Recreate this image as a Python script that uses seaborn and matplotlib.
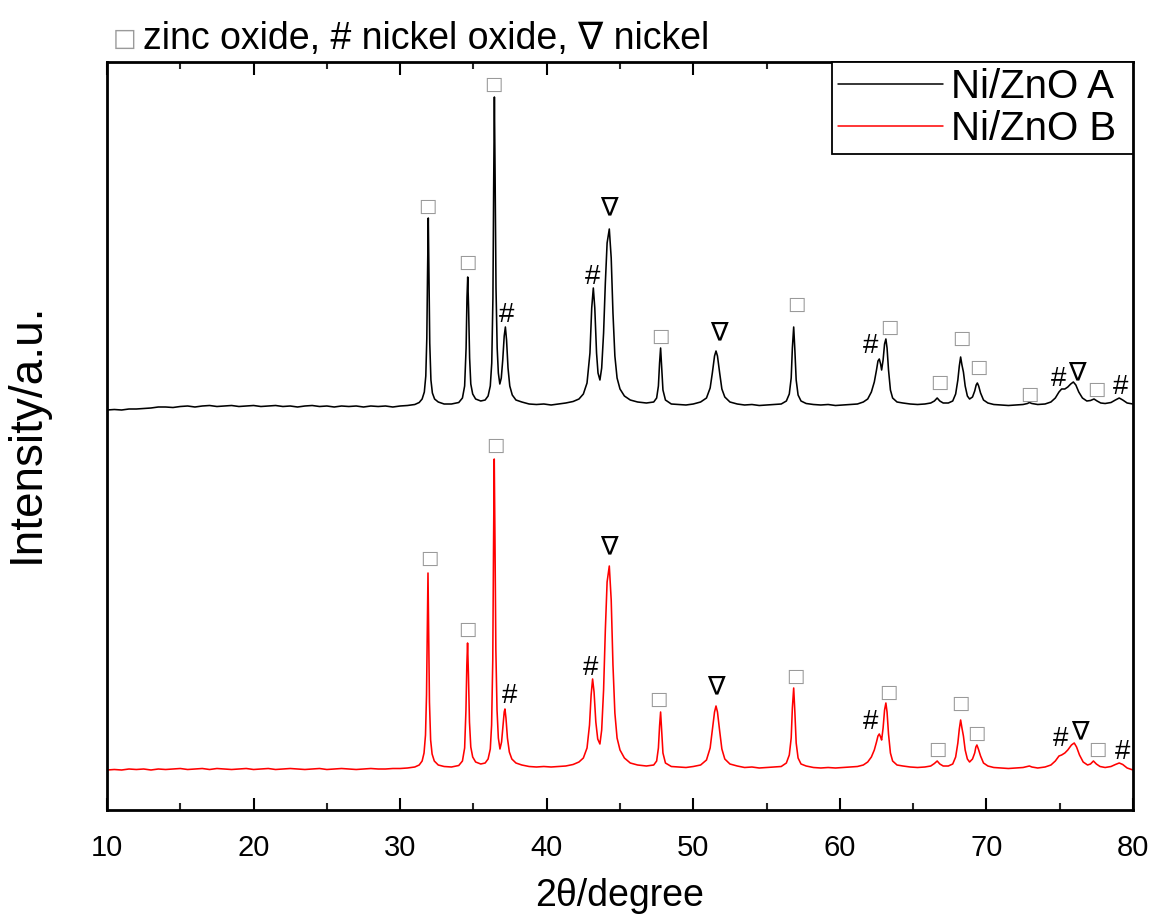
import numpy as np
import pandas as pd
import matplotlib
matplotlib.use("Agg")
import matplotlib.pyplot as plt
import seaborn as sns

# ---------------- data ----------------
two_theta_a = [10, 10.5, 11, 11.5, 12, 12.5, 13, 13.5, 14, 14.5, 15, 15.5, 16, 16.5, 17, 17.5, 18, 18.5,
               19, 19.5, 20, 20.5, 21, 21.5, 22, 22.5, 23, 23.5, 24, 24.5, 25, 25.5, 26, 26.5, 27, 27.5,
               28, 28.5, 29, 29.5, 30, 30.5, 31.0, 31.3,
               31.5, 31.65, 31.75, 31.82, 31.87, 31.92, 31.97, 32.02, 32.1, 32.2, 32.35, 32.6, 33.0, 33.5,
               34.0, 34.25, 34.4, 34.5, 34.56, 34.61, 34.67, 34.74, 34.82, 34.95, 35.15, 35.5, 35.8, 36.0,
               36.15, 36.25, 36.33, 36.38, 36.43, 36.48, 36.54, 36.62, 36.7, 36.8, 36.9, 37.0, 37.1, 37.18,
               37.26, 37.36, 37.48, 37.65, 37.9, 38.3, 38.8, 39.3, 39.8, 40.3, 40.8, 41.3, 41.8, 42.2,
               42.5, 42.75, 42.95, 43.07, 43.18, 43.28, 43.4, 43.5, 43.63, 43.75, 43.88, 44.0, 44.12, 44.27,
               44.4, 44.52, 44.65, 44.8, 45.0, 45.3, 45.7, 46.2, 46.8, 47.3, 47.5, 47.62, 47.7, 47.77,
               47.84, 47.93, 48.1, 48.5, 49.0, 49.5, 50.0, 50.5, 50.9, 51.15, 51.3, 51.45, 51.55, 51.65,
               51.8, 51.95, 52.15, 52.5, 53, 53.5, 54, 54.5, 55, 55.5, 56, 56.35, 56.55, 56.68, 56.76,
               56.85, 56.93, 57.02, 57.15, 57.35, 57.7, 58.2, 58.7, 59.2, 59.7, 60.2, 60.7, 61.2, 61.6,
               61.9, 62.15, 62.35, 62.5, 62.6, 62.69, 62.78, 62.85, 62.95, 63.05, 63.14, 63.22, 63.32,
               63.45, 63.6, 63.9, 64.3, 64.8, 65.3, 65.8, 66.2, 66.45, 66.64, 66.82, 67.05, 67.4, 67.7,
               67.9, 68.05, 68.15, 68.24, 68.33, 68.43, 68.55, 68.7, 68.85, 69.05, 69.2, 69.3, 69.38,
               69.47, 69.6, 69.8, 70.1, 70.5, 71, 71.5, 72, 72.5, 72.8, 72.93, 73.1, 73.5, 74, 74.4,
               74.7, 74.95, 75.13, 75.35, 75.55, 75.75, 75.93, 76.1, 76.3, 76.55, 76.85, 77.1, 77.34,
               77.55, 77.8, 78.1, 78.5, 78.8, 79.06, 79.3, 79.6, 80.0]
intensity_a = [38, 38.5, 38, 39, 39, 39.5, 40, 41, 41, 40.5, 41.5, 42, 41, 42, 42.5, 41.5, 42, 42.5,
               41.5, 42, 42.5, 41.5, 42, 42.5, 41.5, 42, 41, 42, 42.5, 41.5, 42, 41, 42, 41.5, 42, 41,
               42, 41.5, 42, 41, 42, 42.5, 43.5, 45.5,
               49, 56, 72, 110, 175, 230, 170, 105, 68, 55, 49, 46, 44, 44,
               45.5, 50, 62, 100, 150, 171, 140, 90, 64, 54, 49, 47, 48, 52,
               62, 85, 150, 260, 351, 270, 160, 100, 75, 64, 70, 88, 112, 121,
               108, 80, 62, 53, 48, 46, 44, 43.5, 44, 43, 44, 45, 46.5, 49,
               54, 65, 95, 140, 160, 140, 95, 75, 68, 80, 115, 165, 205, 219,
               190, 135, 92, 70, 59, 52, 48, 46, 45, 46, 50, 62, 85, 100,
               82, 58, 48, 44, 43.5, 43, 44, 46, 50, 60, 75, 92, 97, 92,
               75, 59, 51, 46, 44, 43, 43.5, 42.5, 43, 43.5, 44, 47, 54, 70, 100,
               121, 98, 68, 53, 47, 44.5, 43.5, 43, 43.5, 42.5, 43, 43.5, 44, 46,
               49, 56, 66, 78, 87, 89, 84, 78, 88, 104, 109, 100, 78,
               58, 50, 46, 45, 44, 43.5, 44, 45, 47, 50, 47, 45, 45, 47,
               54, 68, 82, 91, 83, 76, 62, 52, 49, 51, 57, 63, 65,
               62, 55, 48, 45, 43.5, 43, 42.5, 43, 43.5, 44.5, 45.5, 44.5, 43.5, 44, 46,
               50, 56, 59, 59, 61, 64, 66, 63, 56, 50, 47, 47.5, 49,
               47, 45, 44.5, 45.5, 48, 50, 48, 45, 44]

two_theta_b = [10, 10.5, 11, 11.5, 12, 12.5, 13, 13.5, 14, 14.5, 15, 15.5, 16, 16.5, 17, 17.5, 18, 18.5,
               19, 19.5, 20, 20.5, 21, 21.5, 22, 22.5, 23, 23.5, 24, 24.5, 25, 25.5, 26, 26.5, 27, 27.5,
               28, 28.5, 29, 29.5, 30, 30.5, 31.0, 31.3,
               31.5, 31.63, 31.73, 31.8, 31.85, 31.9, 31.95, 32.0, 32.08, 32.18, 32.33, 32.6, 33.0, 33.5,
               34.0, 34.25, 34.4, 34.49, 34.55, 34.6, 34.66, 34.73, 34.82, 34.95, 35.15, 35.5, 35.8, 36.0,
               36.15, 36.24, 36.32, 36.37, 36.42, 36.47, 36.53, 36.61, 36.7, 36.81, 36.92, 37.02, 37.1,
               37.15, 37.22, 37.32, 37.45, 37.62, 37.9, 38.3, 38.8, 39.3, 39.8, 40.3, 40.8, 41.3, 41.8,
               42.2, 42.5, 42.75, 42.92, 43.03, 43.13, 43.23, 43.35, 43.48, 43.63, 43.75, 43.88, 44.0,
               44.12, 44.27, 44.4, 44.52, 44.65, 44.8, 45.0, 45.3, 45.7, 46.2, 46.8, 47.3, 47.5, 47.62,
               47.7, 47.77, 47.84, 47.93, 48.1, 48.5, 49.0, 49.5, 50.0, 50.5, 50.9, 51.15, 51.3, 51.45,
               51.55, 51.65, 51.8, 51.95, 52.15, 52.5, 53, 53.5, 54, 54.5, 55, 55.5, 56, 56.35, 56.55,
               56.68, 56.76, 56.85, 56.93, 57.02, 57.15, 57.35, 57.7, 58.2, 58.7, 59.2, 59.7, 60.2, 60.7,
               61.2, 61.6, 61.9, 62.15, 62.35, 62.5, 62.6, 62.69, 62.78, 62.85, 62.95, 63.05, 63.14,
               63.22, 63.32, 63.45, 63.6, 63.9, 64.3, 64.8, 65.3, 65.8, 66.2, 66.45, 66.64, 66.82, 67.05,
               67.4, 67.7, 67.9, 68.05, 68.15, 68.24, 68.33, 68.43, 68.55, 68.7, 68.85, 69.05, 69.2,
               69.28, 69.35, 69.45, 69.6, 69.8, 70.1, 70.5, 71, 71.5, 72, 72.5, 72.8, 72.93, 73.1, 73.5,
               74, 74.4, 74.7, 74.95, 75.13, 75.35, 75.55, 75.8, 75.99, 76.15, 76.35, 76.6, 76.9, 77.1,
               77.3, 77.5, 77.75, 78.1, 78.5, 78.8, 79.06, 79.3, 79.6, 80]
intensity_b = [40, 40.5, 40, 41, 40.5, 41, 40, 41, 40.5, 41, 41.5, 40.5, 41, 41.5, 40.5, 41.5, 41, 40.5,
               41, 41.5, 40.5, 41, 41.5, 40.5, 41, 41.5, 41, 40.5, 41, 41.5, 40.5, 41, 41.5, 41, 40.5, 41,
               41.5, 41, 41, 41.5, 41.5, 42, 43, 45,
               49, 57, 75, 115, 180, 237, 175, 108, 70, 56, 49, 45, 43.5, 43,
               44.5, 49, 62, 100, 145, 167, 135, 88, 63, 53, 48, 46, 47, 51,
               61, 85, 150, 260, 351, 270, 160, 100, 72, 61, 68, 84, 98,
               101, 92, 72, 58, 51, 47, 45, 43.5, 43, 43.5, 43, 43.5, 44, 45.5,
               48, 52, 62, 85, 115, 131, 118, 88, 71, 66, 80, 120, 180,
               228, 244, 210, 145, 97, 72, 60, 52, 47, 45, 44, 45, 49, 62,
               84, 98, 80, 57, 47, 43.5, 43, 42.5, 43.5, 45, 50, 62, 80, 98,
               104, 98, 79, 61, 51, 46, 44, 42.5, 43, 42, 42.5, 43, 43.5, 47, 55,
               72, 102, 122, 98, 67, 52, 46, 44, 42.5, 42, 42.5, 42, 42.5, 43,
               43.5, 45, 48, 53, 60, 68, 74, 76, 73, 70, 82, 100, 107,
               98, 76, 57, 49, 45, 44, 43, 42.5, 43, 44, 46.5, 49, 46, 44,
               44, 46, 53, 67, 81, 90, 82, 74, 60, 51, 48, 51, 57,
               63, 65, 61, 54, 47, 44, 42.5, 42, 41.5, 42, 42.5, 43.5, 44, 43, 42,
               43, 45, 49, 54, 55, 57, 60, 65, 67, 63, 55, 48, 45, 46,
               49, 46, 43.5, 42.5, 43.5, 45.5, 47, 45.5, 42, 40]

offset_a = 362  # vertical stacking offset of sample A

series_names = ["Ni/ZnO A", "Ni/ZnO B"]

# peak markers: position (2theta), symbol, label height (a.u., already stacked)
mark_x_a = [31.87, 34.6, 36.38, 37.27, 43.11, 44.26, 47.77, 51.72, 57.05, 62.12, 63.35, 66.8, 68.3, 69.42,
            72.93, 74.95, 76.2, 77.47, 79.15]
mark_y_a = [604, 548, 726, 495, 533, 602, 474, 477, 506, 464, 483, 428, 472, 443, 416, 431, 437, 421, 423]
mark_s_a = ["□", "□", "□", "#", "#", "∇", "□", "∇", "□", "#", "□", "□", "□", "□", "□", "#", "∇", "□", "#"]

mark_x_b = [31.99, 34.62, 36.49, 37.44, 42.97, 44.24, 47.59, 51.55, 56.94, 62.12, 63.3, 66.66, 68.19, 69.3,
            75.08, 76.38, 77.58, 79.26]
mark_y_b = [252, 181, 365, 114, 142, 263, 111, 123, 134, 88, 118, 61, 107, 77, 71, 78, 61, 58]
mark_s_b = ["□", "□", "□", "#", "#", "∇", "□", "∇", "□", "#", "□", "□", "□", "□", "#", "∇", "□", "#"]

title_legend = ["□", "zinc oxide, # nickel oxide, ∇ nickel"]

x_ticks = [10, 20, 30, 40, 50, 60, 70, 80]
x_minor = [15, 25, 35, 45, 55, 65, 75]

# ---------------- build table ----------------
df = pd.concat([
    pd.DataFrame({"two_theta": two_theta_a,
                  "intensity": np.array(intensity_a) + offset_a,
                  "sample": series_names[0]}),
    pd.DataFrame({"two_theta": two_theta_b,
                  "intensity": intensity_b,
                  "sample": series_names[1]}),
], ignore_index=True)

# ---------------- plotting ----------------
sns.set_theme(style="ticks")
plt.rcParams["font.family"] = ["Liberation Sans", "DejaVu Sans"]
plt.rcParams["text.color"] = "black"

fig = plt.figure(figsize=(11.57, 9.18), dpi=100)
ax = fig.add_axes([107 / 1157, 1 - 810 / 918, (1133 - 107) / 1157, (810 - 62) / 918])

sns.lineplot(data=df, x="two_theta", y="intensity", hue="sample",
             palette={"Ni/ZnO A": "black", "Ni/ZnO B": "red"},
             linewidth=1.15, ax=ax, sort=False, estimator=None)

grey = "#9a9a9a"
for xs, ys, ss in [(mark_x_a, mark_y_a, mark_s_a), (mark_x_b, mark_y_b, mark_s_b)]:
    for x, y, s in zip(xs, ys, ss):
        if s == "□":
            ax.text(x, y, s, color=grey, fontsize=14, ha="center", va="center",
                    family=["DejaVu Sans"])
        elif s == "#":
            ax.text(x, y, s, color="black", fontsize=20, ha="center", va="center")
        else:
            ax.text(x, y, s, color="black", fontsize=19, ha="center", va="center",
                    family=["DejaVu Sans"])

ax.set_xlim(10, 80)
ax.set_ylim(0, 748)
ax.set_xticks(x_ticks)
ax.set_xticks(x_minor, minor=True)
ax.set_yticks([])
ax.tick_params(axis="x", which="major", direction="in", length=9, width=1.5,
               top=True, labelsize=21, pad=17, colors="black")
ax.tick_params(axis="x", which="minor", direction="in", length=5, width=1.5, top=True)
for sp in ax.spines.values():
    sp.set_linewidth(2)
    sp.set_color("black")
    sp.set_visible(True)

ax.set_xlabel("2θ/degree", fontsize=27, labelpad=12, color="black")
ax.set_ylabel("Intensity/a.u.", fontsize=33, color="black")
ax.yaxis.set_label_coords(-0.057, 0.504)

handles, labels = ax.get_legend_handles_labels()
leg = ax.legend(handles, [lab + " " for lab in labels],
                loc="upper right", bbox_to_anchor=(1.0, 1.0), borderaxespad=0.0,
                fontsize=29, frameon=True, fancybox=False, framealpha=1,
                edgecolor="black", handlelength=2.6, handletextpad=0.2,
                borderpad=0.15, labelspacing=0.1)
leg.get_frame().set_linewidth(1.3)
for line in leg.get_lines():
    line.set_linewidth(1.1)
for t in leg.get_texts():
    t.set_color("black")

# title: a grey square followed by black text
fig.text(113 / 1157, 1 - 46 / 918, title_legend[0], color=grey, fontsize=18,
         family=["DejaVu Sans"], va="baseline", ha="left")
fig.text(143 / 1157, 1 - 49 / 918, title_legend[1], color="black", fontsize=27,
         va="baseline", ha="left")

fig.savefig("out.png", dpi=100)
